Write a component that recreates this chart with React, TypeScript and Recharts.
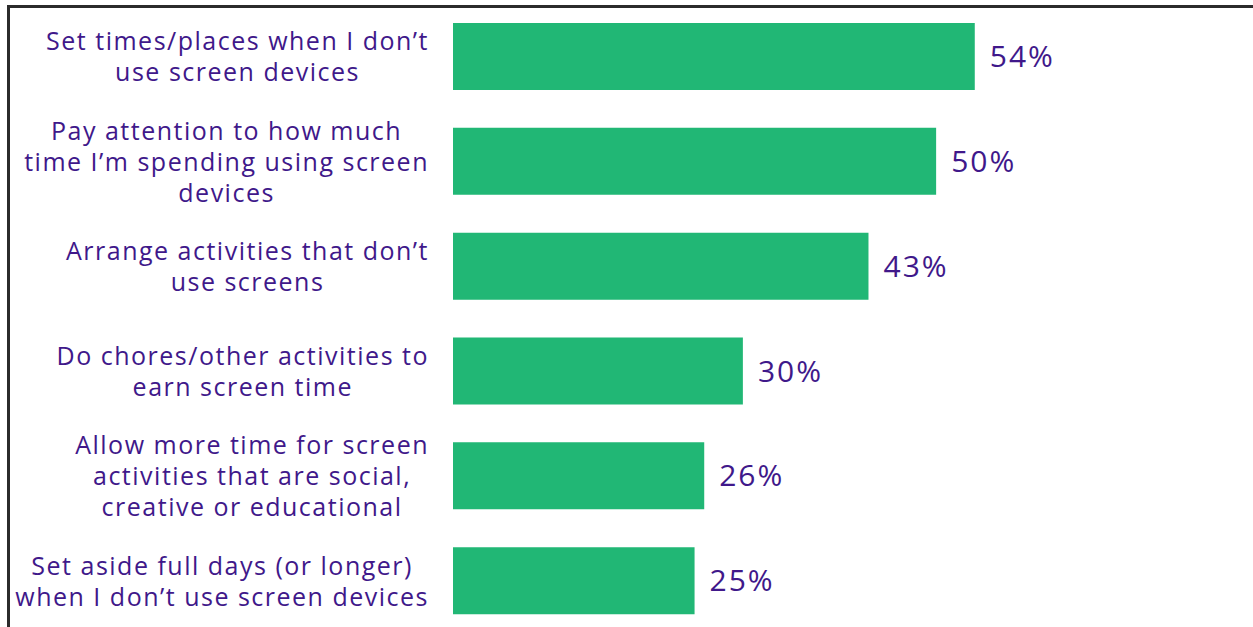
import { Bar, BarChart, LabelList, XAxis, YAxis } from 'recharts';

const CATEGORIES = [
  'Set times/places when I don\u2019t\nuse screen devices',
  'Pay attention to how much\ntime I\u2019m spending using screen\ndevices',
  'Arrange activities that don\u2019t\nuse screens',
  'Do chores/other activities to\nearn screen time',
  'Allow more time for screen\nactivities that are social,\ncreative or educational',
  'Set aside full days (or longer)\nwhen I don\u2019t use screen devices',
];
const VALUES = [54, 50, 43, 30, 26, 25];

const data = CATEGORIES.map((name, i) => ({ name, value: VALUES[i] }));

const PURPLE = '#40188a';
const GREEN = '#21b775';
const FONT = '"Open Sans", sans-serif';
const LINE_H = 31;

function CategoryTick(props: any) {
  const { x, y, payload } = props;
  const lines = String(payload.value).split('\n');
  const h = lines.length * LINE_H;
  const w = 440;
  return (
    <foreignObject x={x - w} y={y - h / 2} width={w} height={h}>
      <div style={{ display: 'flex', justifyContent: 'flex-end', width: w }}>
        <div
          style={{
            textAlign: 'center',
            fontFamily: FONT,
            fontSize: 25,
            letterSpacing: 1.5,
            lineHeight: `${LINE_H}px`,
            color: PURPLE,
            whiteSpace: 'nowrap',
          }}
        >
          {lines.map((l, i) => (
            <div key={i}>{l}</div>
          ))}
        </div>
      </div>
    </foreignObject>
  );
}

export default function App() {
  return (
    <div
      style={{
        position: 'absolute',
        left: 0,
        top: 0,
        width: 1253,
        height: 627,
        overflow: 'hidden',
        background: '#fff',
      }}
    >
      <BarChart
        width={1253}
        height={633}
        data={data}
        layout="vertical"
        margin={{ top: 4, right: 27, bottom: 0, left: 0 }}
      >
        <XAxis type="number" domain={[0, 80]} hide />
        <YAxis
          type="category"
          dataKey="name"
          width={453}
          axisLine={false}
          tickLine={false}
          tickSize={6}
          tickMargin={18}
          interval={0}
          tick={<CategoryTick />}
        />
        <Bar dataKey="value" fill={GREEN} barSize={67} isAnimationActive={false}>
          <LabelList
            dataKey="value"
            position="right"
            offset={15}
            formatter={(v: any) => `${v}%`}
            style={{ fill: PURPLE, fontSize: 30, fontFamily: FONT, letterSpacing: 2 }}
          />
        </Bar>
      </BarChart>
      <div
        style={{
          position: 'absolute',
          left: 7,
          top: 5,
          right: 0,
          bottom: 0,
          borderTop: '3px solid #2b2b2b',
          borderLeft: '3px solid #2b2b2b',
          pointerEvents: 'none',
        }}
      />
    </div>
  );
}
